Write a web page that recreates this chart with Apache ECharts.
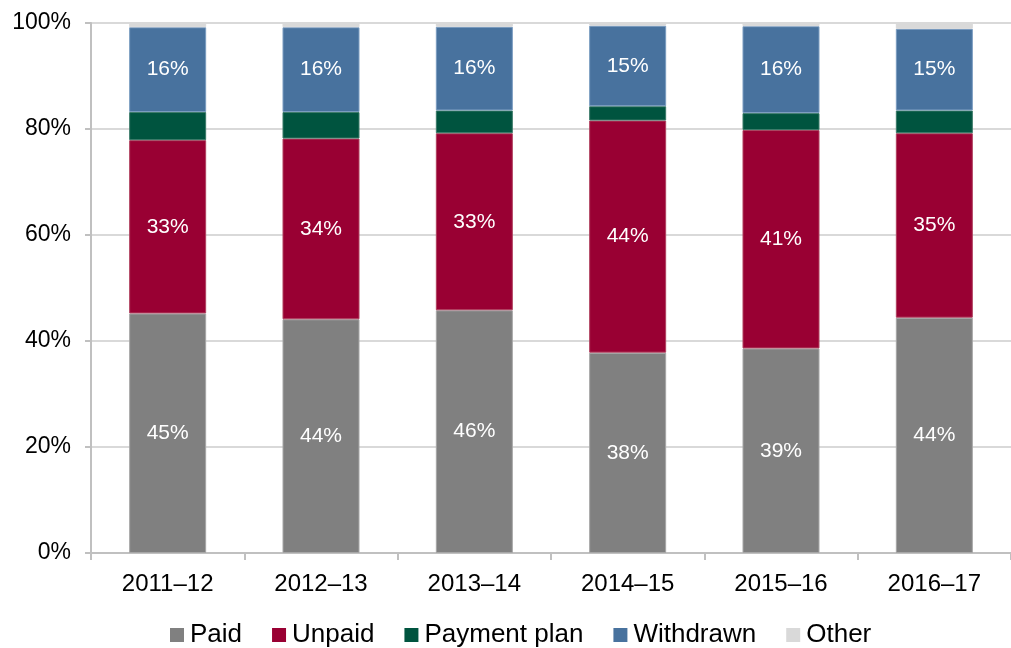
<!DOCTYPE html>
<html>
<head>
<meta charset="utf-8">
<script src="https://cdn.jsdelivr.net/npm/echarts@6/dist/echarts.min.js"></script>
<style>
  html, body { margin: 0; padding: 0; background: #fff; }
  #chart { width: 1011px; height: 648px; }
</style>
</head>
<body>
<div id="chart"></div>
<script>
const years = ["2011–12", "2012–13", "2013–14", "2014–15", "2015–16", "2016–17"]
const paid = [45.2, 44.1, 45.8, 37.8, 38.6, 44.4]
const unpaid = [32.7, 34.1, 33.4, 43.8, 41.2, 34.8]
const paymentPlan = [5.3, 5.0, 4.3, 2.7, 3.2, 4.3]
const withdrawn = [16.0, 16.0, 15.8, 15.2, 16.4, 15.4]
const other = [0.8, 0.8, 0.7, 0.5, 0.5, 1.0]
const yTicks = [0, 20, 40, 60, 80, 100]

const font = "Liberation Sans, Arial, sans-serif"

// 段内白色百分比标签
const inLabel = {
  show: true,
  position: "inside",
  color: "#ffffff",
  fontFamily: font,
  fontSize: 21,
  formatter: (p) => Math.round(p.value) + "%"
}

function bar(name, data, color, border, label) {
  return {
    name: name,
    type: "bar",
    stack: "all",
    barWidth: 77,
    data: data,
    itemStyle: { color: color, borderColor: border, borderWidth: 1 },
    label: label ? inLabel : { show: false },
    emphasis: { disabled: true }
  }
}

const chart = echarts.init(document.getElementById("chart"), null, { renderer: "canvas" })

chart.setOption({
  animation: false,
  grid: { left: 91, top: 23, width: 930, height: 530, containLabel: false },
  legend: {
    top: 622,
    left: 170,
    padding: 0,
    itemWidth: 14,
    itemHeight: 14,
    itemGap: 30,
    icon: "rect",
    itemStyle: { borderWidth: 0 },
    textStyle: { fontFamily: font, fontSize: 26, color: "#000", padding: [0, 0, 0, 1] },
    data: ["Paid", "Unpaid", "Payment plan", "Withdrawn", "Other"]
  },
  xAxis: {
    type: "category",
    data: years,
    axisLine: { lineStyle: { color: "#c0c0c0", width: 2 } },
    axisTick: { show: true, length: 7, lineStyle: { color: "#c0c0c0", width: 2 } },
    axisLabel: { fontFamily: font, fontSize: 24, color: "#000", margin: 19 }
  },
  yAxis: {
    type: "value",
    min: yTicks[0],
    max: yTicks[yTicks.length - 1],
    interval: 20,
    axisLine: { show: true, lineStyle: { color: "#c0c0c0", width: 2 } },
    axisTick: { show: true, length: 6, lineStyle: { color: "#c0c0c0", width: 2 } },
    splitLine: { lineStyle: { color: "#d9d9d9", width: 2 } },
    axisLabel: { fontFamily: font, fontSize: 23, color: "#000", margin: 20, formatter: "{value}%" }
  },
  series: [
    bar("Paid", paid, "#808080", "#a6a6a6", true),
    bar("Unpaid", unpaid, "#990033", "#b0405f", true),
    bar("Payment plan", paymentPlan, "#00543f", "#3a7a68", false),
    bar("Withdrawn", withdrawn, "#48729e", "#7a9cc0", true),
    bar("Other", other, "#d9d9d9", "#d9d9d9", false)
  ]
})
</script>
</body>
</html>
